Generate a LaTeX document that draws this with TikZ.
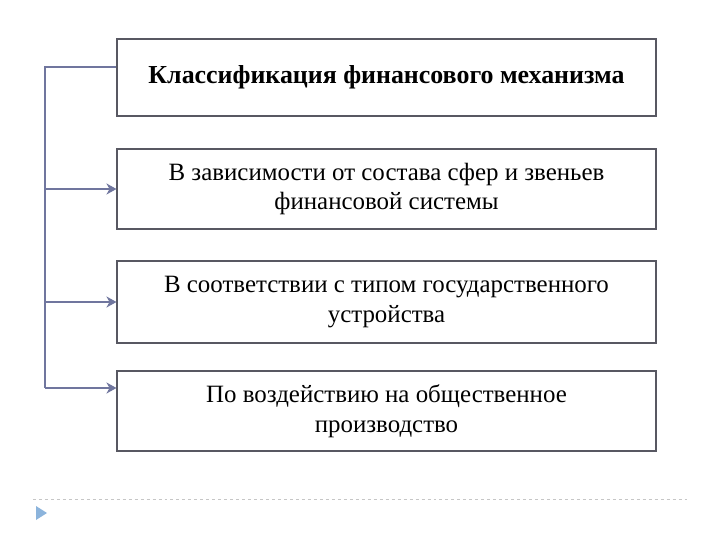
\documentclass[tikz,border=0pt]{standalone}
\usepackage{fontspec}
\setmainfont{Liberation Serif}
\usetikzlibrary{positioning, arrows.meta}
\definecolor{framegray}{RGB}{88,88,98}
\definecolor{linkblue}{RGB}{112,118,158}
\definecolor{trifill}{RGB}{140,180,220}
\begin{document}
\begin{tikzpicture}[>={Stealth[length=10bp, width=11bp, inset=3bp]}, x=1bp, y=-1bp,
	b/.style={draw=framegray, line width=2bp, minimum width=538bp, minimum height=80bp, align=center, inner sep=0, font=\fontsize{25}{30}\selectfont},
	l/.style={draw=linkblue, line width=2bp}]
	\useasboundingbox (0,0) rectangle (720,540);
	\node[b, minimum height=77bp, font=\fontsize{26}{30}\selectfont] (k) at (386.5,77.5) {\textbf{Классификация финансового механизма}};
	\node[b] (z) at (386.5,189) {В зависимости от состава сфер и звеньев\\финансовой системы};
	\node[b, minimum height=82bp] (s) at (386.5,302) {В соответствии с типом государственного\\устройства};
	\node[b] (p) at (386.5,411) {По воздействию на общественное\\производство};
	\coordinate (c1) at (45,67);
	\coordinate (c4) at (45,388);
	\draw[l] (k.west |- c1) -- (c1) -- (c4);
	\draw[l, ->] (c1 |- z.west) -- (z.west);
	\draw[l, ->] (c1 |- s.west) -- (s.west);
	\draw[l, ->] (c4) -- (c4 -| p.west);
	% footer rule and marker
	\draw[gray!45, dashed, line width=0.8bp] (33,499) -- (687,499);
	\fill[trifill] (36,506) -- (47,513) -- (36,520) -- cycle;
\end{tikzpicture}
\end{document}
